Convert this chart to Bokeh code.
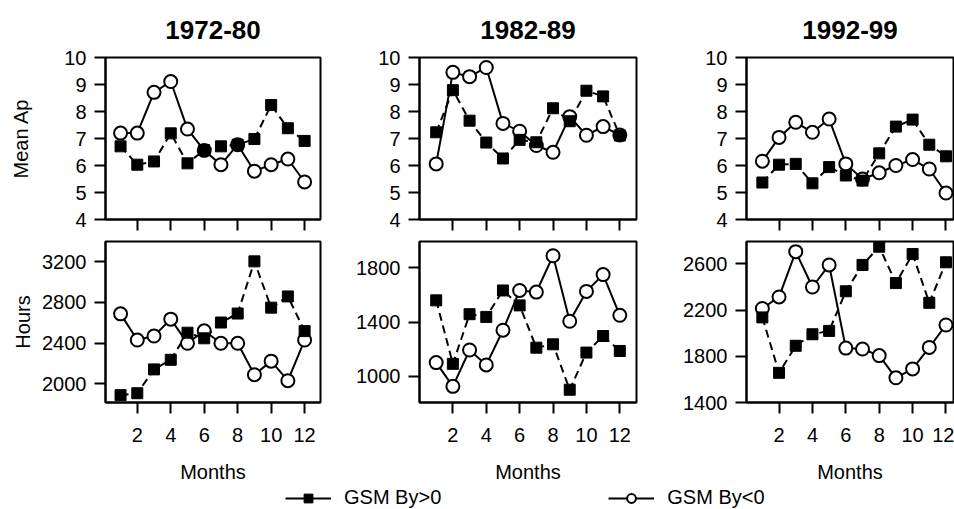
from bokeh.plotting import figure
from bokeh.layouts import column, row
from bokeh.models import FixedTicker, Range1d, Legend, LegendItem
from bokeh.embed import file_html
from bokeh.resources import INLINE

FONT = "Liberation Sans"
NAN = float("nan")

months = [1, 2, 3, 4, 5, 6, 7, 8, 9, 10, 11, 12]
periods = ["1972-80", "1982-89", "1992-99"]
series_labels = ["GSM By>0", "GSM By<0"]
x_ticks = [2, 4, 6, 8, 10, 12]
ap_ticks = [4, 5, 6, 7, 8, 9, 10]
hr_ticks_72 = [2000, 2400, 2800, 3200]
hr_ticks_82 = [1000, 1400, 1800]
hr_ticks_92 = [1400, 1800, 2200, 2600]

# Mean Ap
ap_pos_72 = [6.71, 6.03, 6.15, 7.19, 6.08, 6.57, 6.71, 6.77, 6.98, 8.24, 7.38, 6.91]
ap_neg_72 = [7.20, 7.20, 8.71, 9.11, 7.35, 6.56, 6.03, 6.77, 5.79, 6.03, 6.24, 5.39]
ap_pos_82 = [7.23, 8.79, 7.66, 6.85, 6.26, 6.95, 6.86, 8.12, 7.64, 8.77, 8.56, 7.11]
ap_neg_82 = [6.06, 9.45, 9.29, 9.63, 7.56, 7.27, 6.74, 6.49, 7.81, 7.12, 7.44, 7.13]
ap_pos_92 = [5.37, 6.03, 6.06, 5.34, 5.94, 5.63, 5.44, 6.45, 7.44, 7.70, 6.77, 6.34]
ap_neg_92 = [6.16, 7.04, 7.60, 7.23, 7.72, 6.06, 5.50, 5.73, 6.00, 6.22, 5.87, 4.98]

# Hours
hr_pos_72 = [1890, 1909, 2143, 2237, 2503, 2448, 2603, 2691, 3203, 2749, 2859, 2519]
hr_neg_72 = [2688, 2431, 2470, 2636, 2399, 2522, 2399, 2399, 2091, 2224, 2032, 2431]
hr_pos_82 = [1561, 1093, 1459, 1439, 1634, 1524, 1212, 1237, 902, 1176, 1298, 1188]
hr_neg_82 = [1102, 927, 1195, 1085, 1341, 1634, 1622, 1890, 1407, 1627, 1751, 1451]
hr_pos_92 = [2137, 1657, 1891, 1991, 2020, 2363, 2591, 2749, 2434, 2686, 2263, 2614]
hr_neg_92 = [2214, 2314, 2706, 2400, 2591, 1871, 1863, 1806, 1614, 1691, 1877, 2071]

# layout geometry per column: (fig width, left border, right border, x range)
cols = [
    (330, 105, 10, (0.1, 12.95)),
    (316, 89, 10, (0.0, 13.0)),
    (308, 100, 1, (0.05, 12.45)),
]


def style_axes(p, show_x_labels):
    for ax in p.xaxis + p.yaxis:
        ax.axis_line_width = 2
        ax.major_tick_line_width = 2
        ax.major_tick_out = 11
        ax.major_tick_in = 0
        ax.minor_tick_line_color = None
        ax.major_label_text_font = FONT
        ax.major_label_text_font_size = "20px"
        ax.major_label_text_color = "black"
        ax.axis_label_text_font = FONT
        ax.axis_label_text_font_size = "20px"
        ax.axis_label_text_font_style = "normal"
        ax.axis_label_text_color = "black"
    p.yaxis.major_label_standoff = 8
    p.xaxis.ticker = FixedTicker(ticks=x_ticks)
    if show_x_labels:
        p.xaxis.major_label_standoff = 14
        p.xaxis.axis_label = "Months"
        p.xaxis.axis_label_standoff = 16
    else:
        p.xaxis.major_label_overrides = {t: "" for t in x_ticks}
        p.xaxis.major_label_standoff = 0
    p.xgrid.grid_line_color = None
    p.ygrid.grid_line_color = None
    p.outline_line_color = "black"
    p.outline_line_width = 2


def draw_series(p, pos, neg):
    p.line(months, neg, line_color="black", line_width=2)
    p.line(months, pos, line_color="black", line_width=2, line_dash="8 5")
    p.scatter(months, neg, marker="circle", size=13, fill_color="white",
              line_color="black", line_width=2)
    p.scatter(months, pos, marker="square", size=11, fill_color="black",
              line_color="black", line_width=1)


top_data = [(ap_pos_72, ap_neg_72), (ap_pos_82, ap_neg_82), (ap_pos_92, ap_neg_92)]
bot_data = [(hr_pos_72, hr_neg_72, hr_ticks_72, (1818, 3398)),
            (hr_pos_82, hr_neg_82, hr_ticks_82, (808, 1995)),
            (hr_pos_92, hr_neg_92, hr_ticks_92, (1400, 2794))]

top_figs = []
bot_figs = []
for i, (w, lb, rb, xr) in enumerate(cols):
    pt = figure(width=w, height=239, title=periods[i], output_backend="svg",
                toolbar_location=None, x_range=Range1d(*xr), y_range=Range1d(4, 10),
                min_border_left=lb, min_border_right=rb, min_border_top=57,
                min_border_bottom=20, background_fill_color="white",
                border_fill_color="white")
    pt.title.align = "center"
    pt.title.text_font = FONT
    pt.title.text_font_size = "26px"
    pt.title.text_font_style = "bold"
    pt.title.text_color = "black"
    pt.title.standoff = 37
    style_axes(pt, False)
    pt.yaxis.ticker = FixedTicker(ticks=ap_ticks)
    if i == 0:
        pt.yaxis.axis_label = "Mean Ap"
        pt.yaxis.axis_label_standoff = 29
    draw_series(pt, *top_data[i])
    top_figs.append(pt)

    pos, neg, ticks, yr = bot_data[i]
    pb = figure(width=w, height=246, output_backend="svg", toolbar_location=None,
                x_range=Range1d(*xr), y_range=Range1d(*yr),
                min_border_left=lb, min_border_right=rb, min_border_top=2,
                min_border_bottom=82, background_fill_color="white",
                border_fill_color="white")
    style_axes(pb, True)
    pb.yaxis.ticker = FixedTicker(ticks=ticks)
    if i == 0:
        pb.yaxis.axis_label = "Hours"
        pb.yaxis.axis_label_standoff = 5
    draw_series(pb, pos, neg)
    bot_figs.append(pb)

# legend strip (renderers hold a single NaN point, so only the legend glyphs show)
lf = figure(width=954, height=24, output_backend="svg", toolbar_location=None,
            x_range=Range1d(0, 1), y_range=Range1d(0, 1), min_border=0,
            background_fill_color="white", border_fill_color="white")
lf.axis.visible = False
lf.xgrid.grid_line_color = None
lf.ygrid.grid_line_color = None
lf.outline_line_color = None
r1 = lf.line(x=[NAN], y=[NAN], line_color="black", line_width=2)
r2 = lf.scatter(x=[NAN], y=[NAN], marker="square", size=11, fill_color="black",
                line_color="black")
r3 = lf.line(x=[NAN], y=[NAN], line_color="black", line_width=2)
r4 = lf.scatter(x=[NAN], y=[NAN], marker="circle", size=13, fill_color="white",
                line_color="black", line_width=2)
legend = Legend(items=[LegendItem(label=series_labels[0], renderers=[r1, r2]),
                       LegendItem(label=series_labels[1], renderers=[r3, r4])],
                orientation="horizontal", location=(285, 0), glyph_width=46,
                glyph_height=22, label_standoff=13, spacing=167, padding=0, margin=0,
                border_line_color=None, background_fill_alpha=0,
                label_text_font=FONT, label_text_font_size="20px",
                label_text_color="black")
lf.add_layout(legend)

layout = column(row(*top_figs, spacing=0), row(*bot_figs, spacing=0), lf, spacing=0)

open("out.html", "w").write(file_html(layout, INLINE))
